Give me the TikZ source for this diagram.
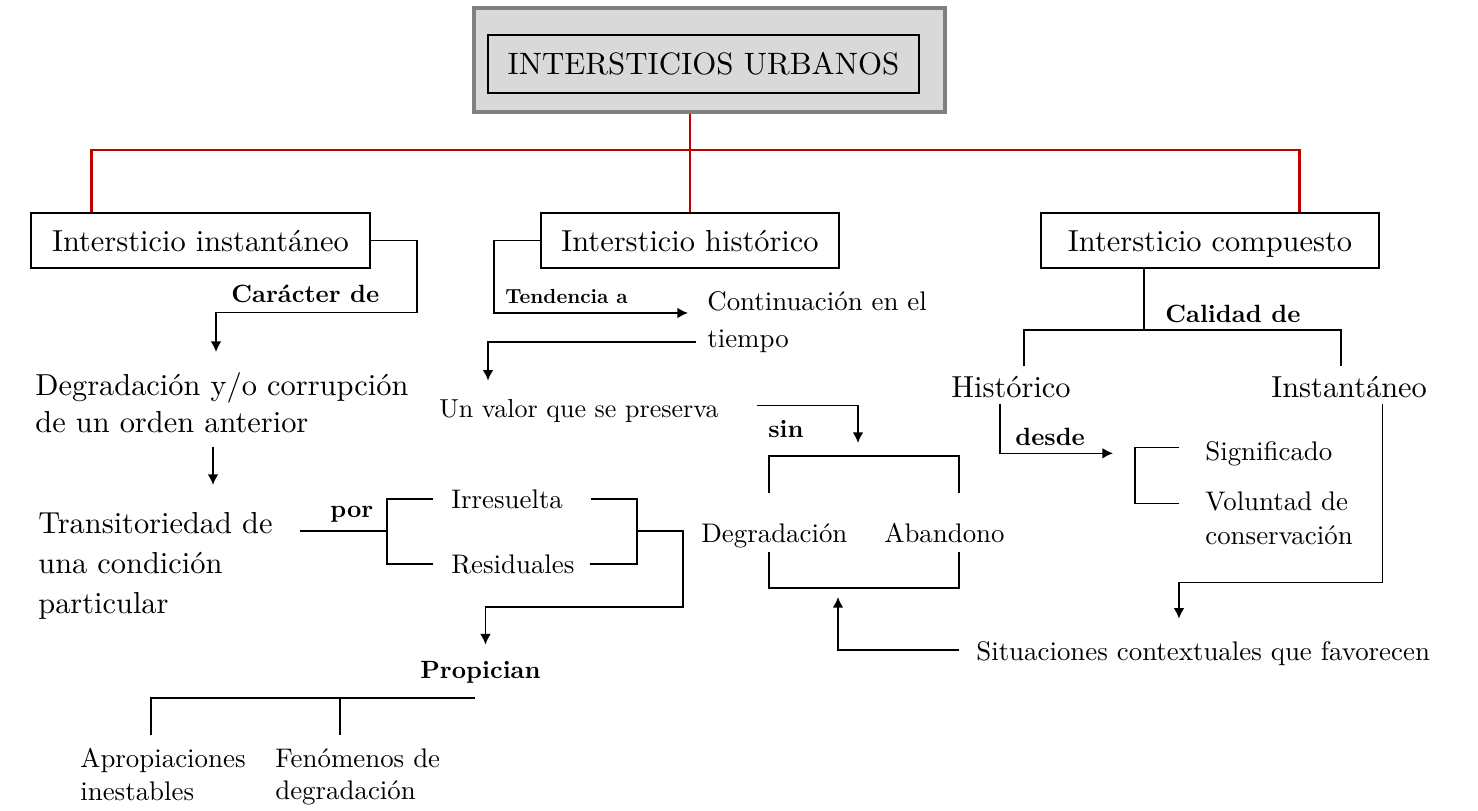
\documentclass[tikz,border=0pt]{standalone}
\usepackage{fontspec}
\setmainfont{lmroman10-regular.otf}[BoldFont=lmroman10-bold.otf]
\usepackage{tikz}
\usetikzlibrary{arrows.meta,calc}
\definecolor{titlefill}{RGB}{217,217,217}
\definecolor{titleedge}{RGB}{128,128,128}
\definecolor{linkred}{RGB}{192,0,0}
\tikzset{
    every node/.style={inner sep=0pt},
    bigtext/.style={font=\fontsize{17.3}{21.5}\selectfont, align=left},
    midtext/.style={font=\fontsize{15.3}{20}\selectfont, align=left},
    lbl/.style={font=\fontsize{14.2}{17}\selectfont\bfseries},
    smalllbl/.style={font=\fontsize{11.6}{14}\selectfont\bfseries},
    typebox/.style={draw, line width=0.9pt, bigtext, minimum height=1.1cm, text height=13pt, text depth=0pt},
    arr/.style={-{Latex[length=6pt,width=6pt]}},
    redlink/.style={draw=linkred, line width=1.6pt},
    link/.style={line width=0.9pt},
}

\begin{document}
\begin{tikzpicture}[x=0.02cm, y=-0.02cm]
    \useasboundingbox (0,0) rectangle (1478,811);

    % title
    \node[draw=titleedge, line width=2.3pt, fill=titlefill, minimum width=9.42cm, minimum height=2.08cm] (title) at (709.5,60) {};
    \node[draw, line width=0.9pt, fill=titlefill, minimum width=8.62cm, minimum height=1.16cm,
          font=\fontsize{17.6}{21}\selectfont, text height=12.4pt, text depth=0pt] (titletext) at (703.5,64) {INTERSTICIOS URBANOS};

    % the three kinds
    \node[typebox, minimum width=6.78cm] (inst) at (200.5,240.5) {Intersticio instantáneo};
    \node[typebox, minimum width=5.96cm] (hist) at (690,240.5) {Intersticio histórico};
    \node[typebox, minimum width=6.76cm] (comp) at (1210,240.5) {Intersticio compuesto};

    \coordinate (hub) at (690,150);
    \draw[redlink] (title.south -| hub) -- (hist.north);
    \draw[redlink] ($(inst.north west)+(61,0)$) |- (hub) -| ($(comp.north east)+(-80,0)$);

    % left branch
    \node[bigtext, anchor=north west] (degr) at (35,372) {Degradación y/o corrupción\\de un orden anterior};
    \node[bigtext, font=\fontsize{17.3}{22.7}\selectfont, anchor=north west] (trans) at (38,512) {Transitoriedad de\\una condición\\particular};
    \node[lbl, anchor=base west] (car) at (231,302) {Carácter de};
    \draw[link, arr] (inst.east) -- ++(46,0) -- ++(0,72) -| ($(degr.north west)+(181,-20)$);
    \draw[link, arr] ($(degr.north west)+(178,75)$) -- ($(trans.north west)+(175,-27)$);

    \node[lbl, anchor=base west] (por) at (330,517) {por};
    \node[midtext, anchor=base west] (irr) at (451,508) {Irresuelta};
    \node[midtext, anchor=base west] (res) at (451,573) {Residuales};
    \coordinate (porR) at (387,531);
    \coordinate (brR) at (637,531);
    \draw[link] (trans.east |- porR) ++(27,0) -- (porR);
    \draw[link] ($(irr.west)+(-18,0)$) -| (porR) |- ($(res.west)+(-18,0)$);
    \draw[link] ($(irr.east)+(28,0)$) -| (brR) |- ($(res.east)+(15,0)$);

    \node[lbl, anchor=base west] (prop) at (420,678) {Propician};
    \draw[link, arr] (brR) -- ++(46,0) -- ++(0,76) -| ($(prop.north)+(5,-16)$);
    \node[midtext, font=\fontsize{15.3}{18.7}\selectfont, anchor=north west] (apro) at (80,748) {Apropiaciones\\inestables};
    \node[midtext, font=\fontsize{15.3}{18.7}\selectfont, anchor=north west] (fen) at (275,748) {Fenómenos de\\degradación};
    \draw[link] ($(apro.north west)+(71,-13)$) |- ($(prop.south)+(-5,15)$);
    \draw[link] ($(fen.north west)+(65,-13)$) -- ++(0,-37);

    % middle branch
    \node[midtext, font=\fontsize{15.3}{21}\selectfont, anchor=north west] (cont) at (707,291) {Continuación en el\\tiempo};
    \node[smalllbl, anchor=base west] (tend) at (505,303) {Tendencia a};
    \draw[link, arr] (hist.west) -- ++(-46,0) |- ($(cont.north west)+(-19,22)$);
    \node[midtext, font=\fontsize{14.8}{18}\selectfont, anchor=base west] (valor) at (439,417) {Un valor que se preserva};
    \draw[link, arr] ($(cont.north west)+(-11,51)$) -| ($(valor.north west)+(49,-18)$);

    \node[lbl, anchor=base west] (sin) at (768,437) {sin};
    \node[midtext, anchor=base west] (degm) at (701,542) {Degradación};
    \node[midtext, anchor=base west] (aban) at (884,542) {Abandono};
    \coordinate (bxNW) at (769,456);
    \coordinate (bxSE) at (959,588);
    \draw[link] ($(bxNW)+(0,37)$) -- (bxNW) -- (bxNW -| bxSE) -- ++(0,37);
    \draw[link] ($(bxNW |- bxSE)+(0,-36)$) -- (bxNW |- bxSE) -- (bxSE) -- ++(0,-36);
    \draw[link, arr] ($(valor.east)+(38,-5)$) -| ($(bxNW -| bxSE)+(-101,-13)$);

    \node[midtext, anchor=base west] (sit) at (976,660) {Situaciones contextuales que favorecen};
    \draw[link, arr] ($(sit.west)+(-17,-3)$) -| ($(bxSE)+(-121,9)$);

    % right branch
    \node[bigtext, anchor=base west] (histc) at (951,397) {Histórico};
    \node[bigtext, anchor=base west] (instc) at (1271,397) {Instantáneo};
    \node[lbl, anchor=base west] (cal) at (1165,322) {Calidad de};
    \coordinate (calJ) at (1144,330);
    \draw[link] (comp.south -| calJ) -- (calJ);
    \draw[link] ($(histc.north)+(13,-9)$) |- (calJ) -| ($(instc.north)+(-8,-9)$);

    \node[midtext, anchor=base west] (sig) at (1205,460) {Significado};
    \node[midtext, font=\fontsize{15.3}{19.8}\selectfont, anchor=north west] (vol) at (1205,491) {Voluntad de\\conservación};
    \node[lbl, anchor=base west] (desde) at (1015,445) {desde};
    \draw[link, arr] ($(histc.south)+(-11,6)$) |- ($(sig.west)+(-92,0)$);
    \draw[link] ($(sig.west)+(-26,-6)$) -- ++(-44,0) -- ++(0,56) -- ++(44,0);
    \draw[link, arr] ($(instc.south)+(33.5,6)$) -- ++(0,179) -| ($(sit.north west)+(203,-22)$);
\end{tikzpicture}
\end{document}
